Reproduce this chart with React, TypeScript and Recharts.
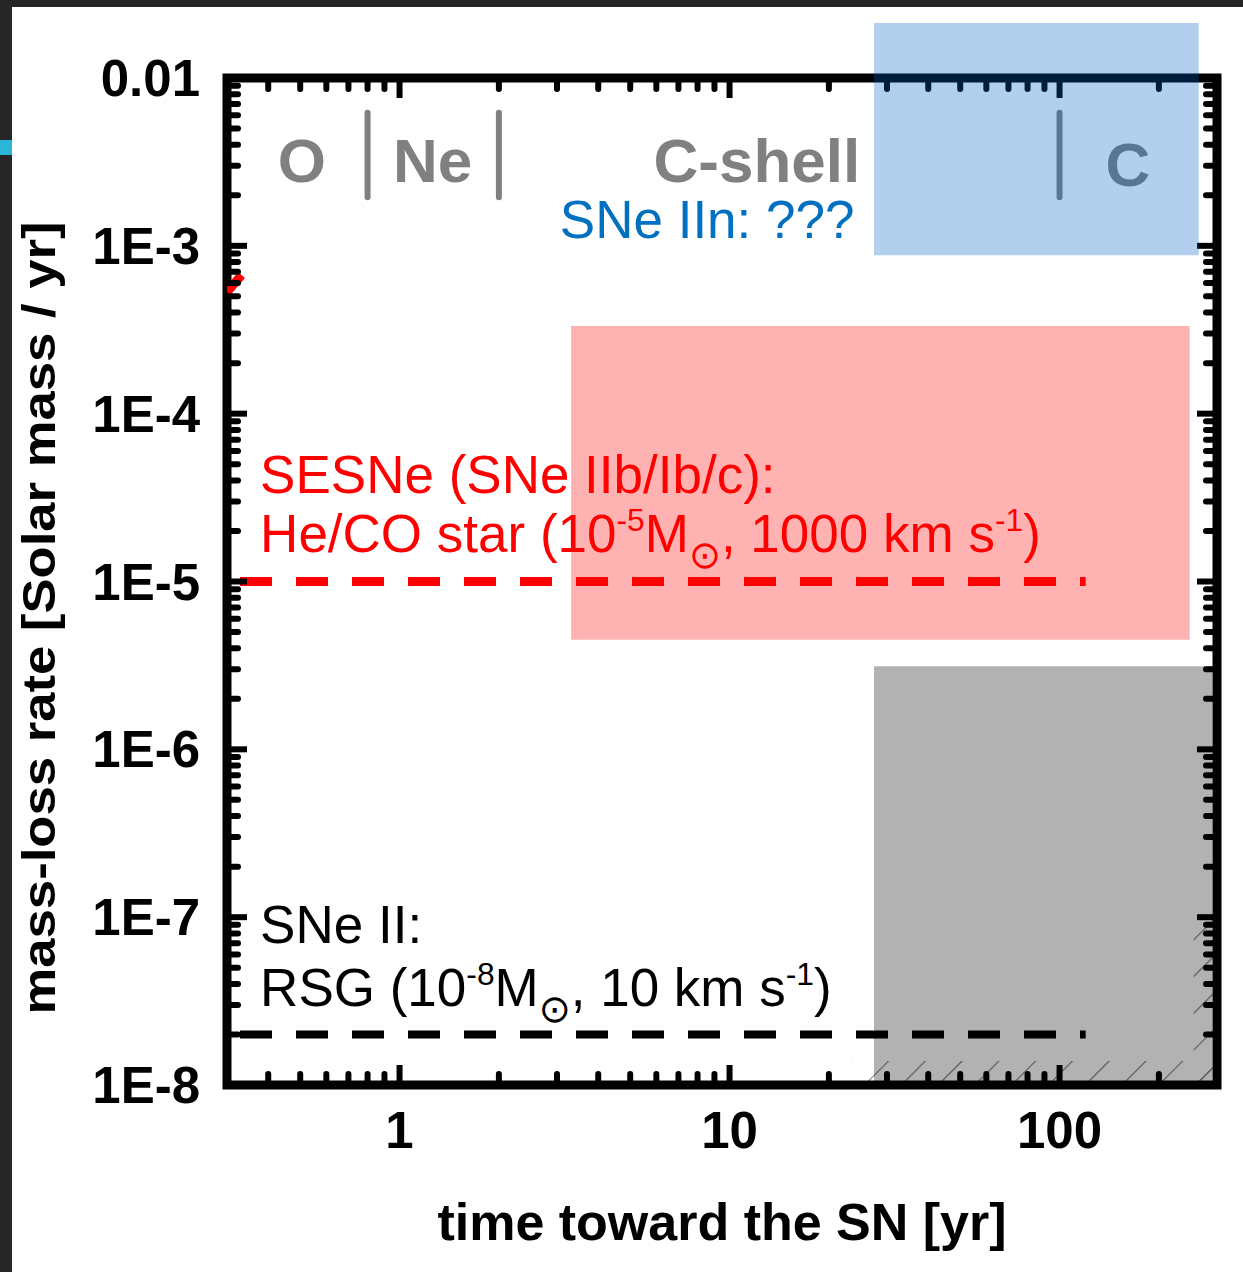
import React from 'react';
import {
  ComposedChart,
  XAxis,
  YAxis,
  Line,
  Label,
  ReferenceArea,
  ReferenceDot,
  ReferenceLine,
} from 'recharts';

const FONT = '"Liberation Sans", Arial, "DejaVu Sans", sans-serif';

// ---- axis ranges and ticks ----
const T_RANGE: [number, number] = [0.3, 300];
const RATE_RANGE: [number, number] = [1e-8, 1e-2];
const T_MAJOR = [1, 10, 100];
const T_MAJOR_LABELS = ['1', '10', '100'];
const T_MINOR = [0.4, 0.5, 0.6, 0.7, 0.8, 0.9, 2, 3, 4, 5, 6, 7, 8, 9, 20, 30, 40, 50, 60, 70, 80, 90, 200];
const RATE_MAJOR = [1e-8, 1e-7, 1e-6, 1e-5, 1e-4, 1e-3, 1e-2];
const RATE_MAJOR_LABELS = ['1E-8', '1E-7', '1E-6', '1E-5', '1E-4', '1E-3', '0.01'];
const RATE_MINOR = RATE_MAJOR.slice(0, -1).flatMap((d) => [2, 3, 4, 5, 6, 7, 8, 9].map((m) => m * d));
const T_TICKS = [...T_MAJOR, ...T_MINOR].sort((a, b) => a - b);
const RATE_TICKS = [...RATE_MAJOR, ...RATE_MINOR].sort((a, b) => a - b);

// ---- model mass-loss levels ----
const SESN_RATE = [
  { t: 0.3, rate: 1e-5 },
  { t: 120, rate: 1e-5 },
];
const RSG_RATE = [
  { t: 0.3, rate: 2e-8 },
  { t: 120, rate: 2e-8 },
];
const EDGE_TRACE = [
  { t: 0.3, rate: 5.3e-4 },
  { t: 0.332, rate: 6.7e-4 },
];

// ---- shaded regions ----
const IIN_BOX_T = [27.4, 264];
const IIN_BOX_RATE = [8.8e-4, 0.0213];
const SESN_BOX_T = [3.31, 248];
const SESN_BOX_RATE = [4.5e-6, 3.33e-4];
const SNII_BOX_T = [27.4, 290];
const SNII_BOX_RATE = [1e-8, 3.13e-6];
const HATCH_BOTTOM_T = [23.5, 300];
const HATCH_BOTTOM_RATE = [1e-8, 1.39e-8];
const HATCH_RIGHT_T = [255, 300];
const HATCH_RIGHT_RATE = [1e-8, 1.0e-7];

// ---- burning stages ----
const STAGE_NAMES = ['O', 'Ne', 'C-shell', 'C'];
const STAGE_T = [0.506, 1.26, 12.1, 161];
const STAGE_RATE = [2.4e-3, 2.4e-3, 2.4e-3, 2.27e-3];
const STAGE_BOUNDS = [0.8, 2, 100];
const STAGE_BAR_RATE = [6.2e-3, 1.95e-3];

// ---- annotations ----
const NOTE_TEXT = [
  'SNe IIn: ???',
  'SESNe (SNe IIb/Ib/c):',
  'He/CO star (10^{-5}M_{⊙}, 1000 km s^{-1})',
  'SNe II:',
  'RSG (10^{-8}M_{⊙}, 10 km s^{-1})',
];
const NOTE_T = [3.06, 0.378, 0.378, 0.378, 0.378];
const NOTE_RATE = [1.113e-3, 3.36e-5, 1.5e-5, 7.0e-8, 2.95e-8];
const NOTE_COLOR = ['#0070C0', '#FF0000', '#FF0000', '#000000', '#000000'];

const MAJOR_LEN = 20;
const MINOR_LEN = 11;

const near = (a: number, b: number) => Math.abs(Math.log10(a) - Math.log10(b)) < 1e-6;
const majorIndex = (v: number, list: number[]) => list.findIndex((m) => near(v, m));

type TickProps = { x: number; y: number; payload: { value: number } };

function tickLine(x1: number, y1: number, x2: number, y2: number, major: boolean) {
  return (
    <line
      x1={x1}
      y1={y1}
      x2={x2}
      y2={y2}
      stroke="#000"
      strokeWidth={6}
      strokeLinecap={major ? 'butt' : 'round'}
    />
  );
}

function BottomTick({ x, y, payload }: TickProps) {
  const i = majorIndex(payload.value, T_MAJOR);
  const major = i >= 0;
  return (
    <g>
      {tickLine(x, y, x, y - (major ? MAJOR_LEN : MINOR_LEN), major)}
      {major && (
        <text x={x} y={y + 63} textAnchor="middle" fontSize={51} fontWeight="bold" fontFamily={FONT} fill="#000">
          {T_MAJOR_LABELS[i]}
        </text>
      )}
    </g>
  );
}

function TopTick({ x, y, payload }: TickProps) {
  const major = majorIndex(payload.value, T_MAJOR) >= 0;
  return <g>{tickLine(x, y, x, y + (major ? MAJOR_LEN : MINOR_LEN), major)}</g>;
}

function LeftTick({ x, y, payload }: TickProps) {
  const i = majorIndex(payload.value, RATE_MAJOR);
  const major = i >= 0;
  return (
    <g>
      {tickLine(x, y, x + (major ? MAJOR_LEN : MINOR_LEN), y, major)}
      {major && (
        <text x={x - 27} y={y + 18} textAnchor="end" fontSize={51} fontWeight="bold" fontFamily={FONT} fill="#000">
          {RATE_MAJOR_LABELS[i]}
        </text>
      )}
    </g>
  );
}

function RightTick({ x, y, payload }: TickProps) {
  const major = majorIndex(payload.value, RATE_MAJOR) >= 0;
  return <g>{tickLine(x, y, x - (major ? MAJOR_LEN : MINOR_LEN), y, major)}</g>;
}

function XTitle({ viewBox }: any) {
  return (
    <text
      x={viewBox.x + viewBox.width / 2}
      y={viewBox.y + 155}
      textAnchor="middle"
      fontSize={52}
      fontWeight="bold"
      fontFamily={FONT}
      fill="#000"
    >
      time toward the SN [yr]
    </text>
  );
}

function YTitle({ viewBox }: any) {
  const cx = viewBox.x + 28;
  const cy = viewBox.y + 540;
  return (
    <text
      transform={`translate(${cx},${cy}) rotate(-90)`}
      textAnchor="middle"
      fontSize={46}
      fontWeight="bold"
      fontFamily={FONT}
      fill="#000"
      textLength={793}
      lengthAdjust="spacingAndGlyphs"
    >
      mass-loss rate [Solar mass / yr]
    </text>
  );
}

// Parses "a^{sup}b_{sub}" into runs with a vertical shift.
function parseRuns(s: string) {
  const runs: { text: string; kind: 'n' | 'sup' | 'sub' }[] = [];
  const re = /(\^\{[^}]*\}|_\{[^}]*\})/g;
  let last = 0;
  let m: RegExpExecArray | null;
  while ((m = re.exec(s))) {
    if (m.index > last) runs.push({ text: s.slice(last, m.index), kind: 'n' });
    runs.push({ text: m[0].slice(2, -1), kind: m[0][0] === '^' ? 'sup' : 'sub' });
    last = m.index + m[0].length;
  }
  if (last < s.length) runs.push({ text: s.slice(last), kind: 'n' });
  return runs;
}

function RichText({ cx, cy, text, color, size }: { cx: number; cy: number; text: string; color: string; size: number }) {
  const runs = parseRuns(text);
  let cur = 0;
  const spans = runs.map((r, i) => {
    const target = r.kind === 'sup' ? -size * 0.4 : r.kind === 'sub' ? size * 0.3 : 0;
    const dy = target - cur;
    cur = target;
    const fs = r.kind === 'n' ? size : r.kind === 'sup' ? size * 0.6 : size * 0.72;
    return (
      <tspan key={i} dy={dy} fontSize={fs} fontFamily={r.kind === 'sub' ? '"DejaVu Sans", sans-serif' : undefined}>
        {r.text}
      </tspan>
    );
  });
  return (
    <text x={cx} y={cy} fill={color} fontFamily={FONT} fontSize={size} style={{ whiteSpace: 'pre' }}>
      {spans}
    </text>
  );
}

export default function App() {
  return (
    <div style={{ position: 'absolute', left: 0, top: 0, width: 1243, height: 1272, background: '#fff', overflow: 'hidden' }}>
      <ComposedChart width={1243} height={1272} margin={{ top: 78, right: 26, bottom: 0, left: 27 }}>
        <defs>
          <pattern id="hatch" width="26" height="26" patternUnits="userSpaceOnUse" patternTransform="rotate(45)">
            <line x1="0" y1="0" x2="0" y2="26" stroke="#7a7a7a" strokeWidth="2.2" />
          </pattern>
        </defs>

        <XAxis
          xAxisId="x"
          dataKey="t"
          type="number"
          scale="log"
          domain={T_RANGE}
          allowDataOverflow
          ticks={T_TICKS}
          interval={0}
          tickSize={0}
          tickMargin={0}
          tickLine={false}
          axisLine={false}
          height={187}
          tick={(p: any) => <BottomTick {...p} />}
        >
          <Label content={XTitle} />
        </XAxis>
        <XAxis
          xAxisId="xt"
          orientation="top"
          mirror
          dataKey="t"
          type="number"
          scale="log"
          domain={T_RANGE}
          allowDataOverflow
          ticks={T_TICKS}
          interval={0}
          tickSize={0}
          tickMargin={0}
          tickLine={false}
          axisLine={false}
          tick={(p: any) => <TopTick {...p} />}
        />
        <YAxis
          yAxisId="y"
          type="number"
          scale="log"
          domain={RATE_RANGE}
          allowDataOverflow
          ticks={RATE_TICKS}
          interval={0}
          tickSize={0}
          tickMargin={0}
          tickLine={false}
          axisLine={false}
          width={200}
          tick={(p: any) => <LeftTick {...p} />}
        >
          <Label content={YTitle} />
        </YAxis>
        <YAxis
          yAxisId="yr"
          orientation="right"
          mirror
          type="number"
          scale="log"
          domain={RATE_RANGE}
          allowDataOverflow
          ticks={RATE_TICKS}
          interval={0}
          tickSize={0}
          tickMargin={0}
          tickLine={false}
          axisLine={false}
          tick={(p: any) => <RightTick {...p} />}
        />

        {/* hatched strips along the lower-right edges */}
        <ReferenceArea
          xAxisId="x"
          yAxisId="y"
          x1={HATCH_BOTTOM_T[0]}
          x2={HATCH_BOTTOM_T[1]}
          y1={HATCH_BOTTOM_RATE[0]}
          y2={HATCH_BOTTOM_RATE[1]}
          fill="url(#hatch)"
          fillOpacity={1}
          stroke="none"
          ifOverflow="visible"
        />
        <ReferenceArea
          xAxisId="x"
          yAxisId="y"
          x1={HATCH_RIGHT_T[0]}
          x2={HATCH_RIGHT_T[1]}
          y1={HATCH_RIGHT_RATE[0]}
          y2={HATCH_RIGHT_RATE[1]}
          fill="url(#hatch)"
          fillOpacity={1}
          stroke="none"
          ifOverflow="visible"
        />

        {/* plot frame */}
        <ReferenceArea
          xAxisId="x"
          yAxisId="y"
          x1={T_RANGE[0]}
          x2={T_RANGE[1]}
          y1={RATE_RANGE[0]}
          y2={RATE_RANGE[1]}
          fill="none"
          stroke="#000"
          strokeWidth={9}
          ifOverflow="visible"
        />

        {/* burning stage separators and names */}
        {STAGE_BOUNDS.map((t) => (
          <ReferenceLine
            key={`sep-${t}`}
            xAxisId="x"
            yAxisId="y"
            segment={[
              { x: t, y: STAGE_BAR_RATE[0] },
              { x: t, y: STAGE_BAR_RATE[1] },
            ]}
            stroke="#808080"
            strokeWidth={6}
            strokeLinecap="round"
            ifOverflow="visible"
          />
        ))}
        {STAGE_NAMES.map((name, i) => (
          <ReferenceDot
            key={`stage-${name}`}
            xAxisId="x"
            yAxisId="y"
            x={STAGE_T[i]}
            y={STAGE_RATE[i]}
            r={0}
            ifOverflow="visible"
            shape={(p: any) => (
              <text x={p.cx} y={p.cy} textAnchor="middle" fontSize={62} fontWeight="bold" fontFamily={FONT} fill="#808080">
                {name}
              </text>
            )}
          />
        ))}

        {/* mass-loss levels */}
        <Line
          xAxisId="x"
          yAxisId="y"
          data={SESN_RATE}
          dataKey="rate"
          stroke="#FF0000"
          strokeWidth={9}
          strokeDasharray="32 24"
          strokeDashoffset={43}
          dot={false}
          activeDot={false}
          isAnimationActive={false}
        />
        <Line
          xAxisId="x"
          yAxisId="y"
          data={RSG_RATE}
          dataKey="rate"
          stroke="#000000"
          strokeWidth={8}
          strokeDasharray="32 24"
          strokeDashoffset={43}
          dot={false}
          activeDot={false}
          isAnimationActive={false}
        />
        <Line
          xAxisId="x"
          yAxisId="y"
          data={EDGE_TRACE}
          dataKey="rate"
          stroke="#FF0000"
          strokeWidth={9}
          dot={false}
          activeDot={false}
          isAnimationActive={false}
        />

        {/* annotations */}
        {NOTE_TEXT.map((txt, i) => (
          <ReferenceDot
            key={`note-${i}`}
            xAxisId="x"
            yAxisId="y"
            x={NOTE_T[i]}
            y={NOTE_RATE[i]}
            r={0}
            ifOverflow="visible"
            shape={(p: any) => <RichText cx={p.cx} cy={p.cy} text={txt} color={NOTE_COLOR[i]} size={53} />}
          />
        ))}

        {/* translucent regions, layered above the text and frame */}
        <ReferenceArea
          xAxisId="x"
          yAxisId="y"
          x1={SESN_BOX_T[0]}
          x2={SESN_BOX_T[1]}
          y1={SESN_BOX_RATE[0]}
          y2={SESN_BOX_RATE[1]}
          fill="#FF0000"
          fillOpacity={0.3}
          stroke="none"
          ifOverflow="visible"
          {...({ zIndex: 2000 } as any)}
        />
        <ReferenceArea
          xAxisId="x"
          yAxisId="y"
          x1={SNII_BOX_T[0]}
          x2={SNII_BOX_T[1]}
          y1={SNII_BOX_RATE[0]}
          y2={SNII_BOX_RATE[1]}
          fill="#000000"
          fillOpacity={0.3}
          stroke="none"
          ifOverflow="visible"
          {...({ zIndex: 2000 } as any)}
        />
        <ReferenceArea
          xAxisId="x"
          yAxisId="y"
          x1={IIN_BOX_T[0]}
          x2={IIN_BOX_T[1]}
          y1={IIN_BOX_RATE[0]}
          y2={IIN_BOX_RATE[1]}
          fill="#0064C3"
          fillOpacity={0.3}
          stroke="none"
          ifOverflow="visible"
          {...({ zIndex: 2000 } as any)}
        />
      </ComposedChart>

      <div style={{ position: 'absolute', left: 0, top: 0, width: 1243, height: 7, background: '#262626' }} />
      <div style={{ position: 'absolute', left: 0, top: 0, width: 12, height: 1272, background: '#262626' }} />
      <div style={{ position: 'absolute', left: 0, top: 140, width: 12, height: 15, background: '#2AB5D9' }} />
    </div>
  );
}
